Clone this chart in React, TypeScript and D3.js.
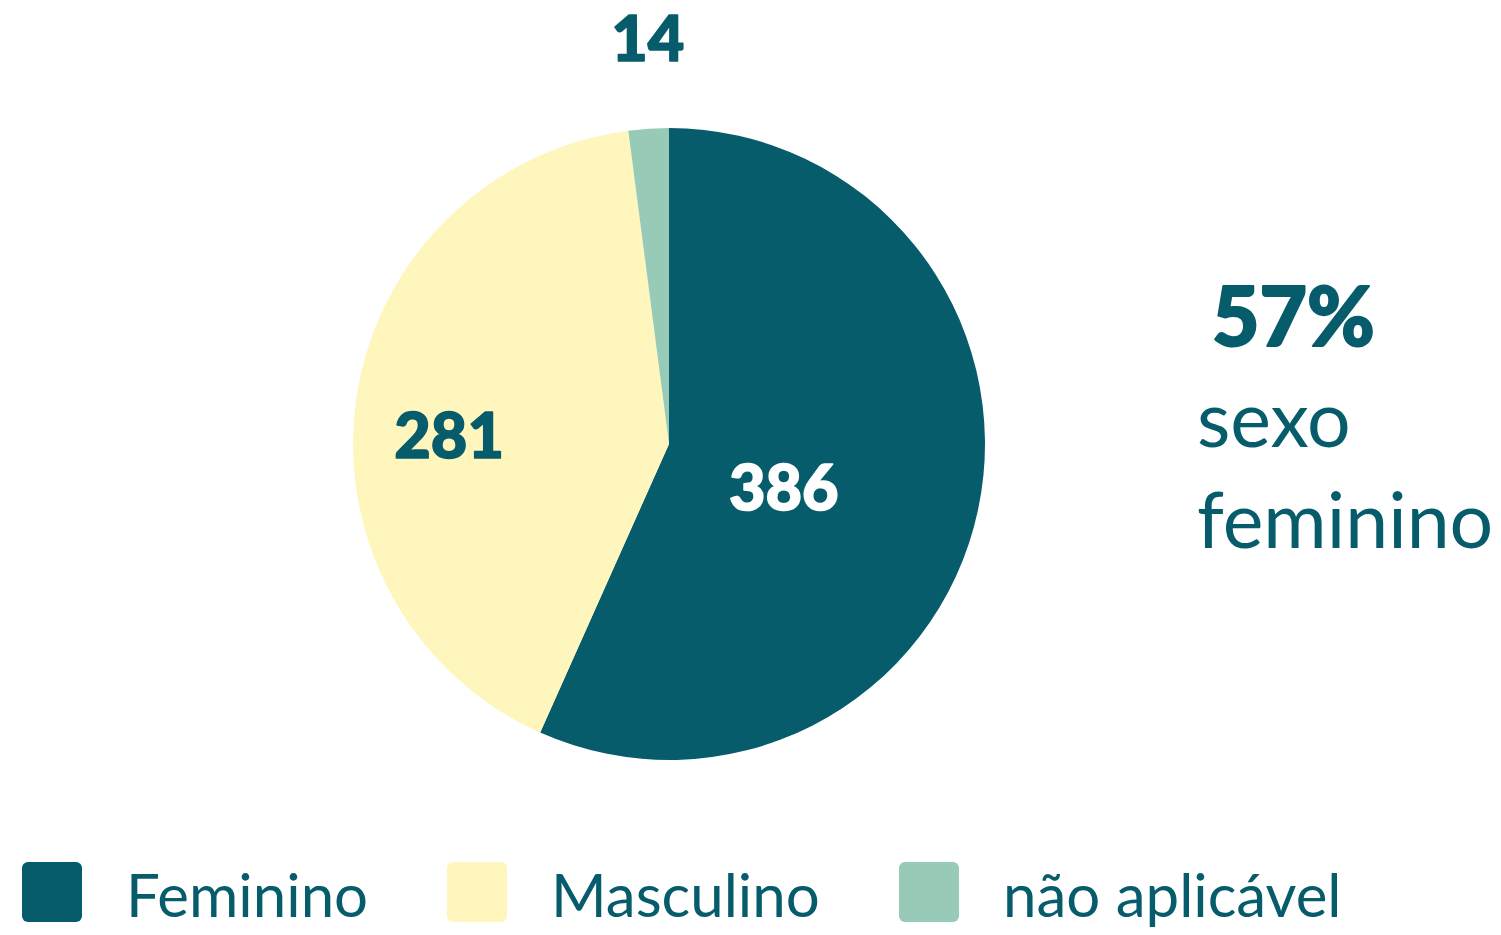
import React from "react";
import * as d3 from "d3";

const categories = ["Feminino", "Masculino", "não aplicável"];
const values = [386, 281, 14];
const colors = ["#075C6C", "#FFF6BE", "#98CBB7"];
const labelColors = ["#FFFFFF", "#075C6C", "#075C6C"];
// label placement: [angle in degrees (clockwise from top), distance from center]
const labelPlacement: [number, number][] = [
  [111, 123],
  [272, 220],
  [357, 405],
];

const TEXT = "#075C6C";
const FONT = "Lato, 'Open Sans', sans-serif";

export default function App() {
  const width = 1501;
  const height = 935;
  const cx = 669;
  const cy = 444;
  const r = 316;

  const pie = d3.pie<number>().sort(null).startAngle(0).endAngle(2 * Math.PI);
  const arcs = pie(values);
  const arc = d3.arc<d3.PieArcDatum<number>>().innerRadius(0).outerRadius(r);

  const total = d3.sum(values);
  const pct = d3.format(".0%")(values[0] / total);

  const legendX = [22, 447, 899];

  return (
    <svg
      width={width}
      height={height}
      style={{ position: "absolute", left: 0, top: 0, background: "#fff" }}
    >
      <g transform={`translate(${cx},${cy})`}>
        {arcs.map((a, i) => (
          <path key={i} d={arc(a) || ""} fill={colors[i]} />
        ))}
        {arcs.map((a, i) => {
          const [deg, dist] = labelPlacement[i];
          const t = (deg * Math.PI) / 180;
          const x = dist * Math.sin(t);
          const y = -dist * Math.cos(t) - 3;
          return (
            <text
              key={i}
              x={x}
              y={y}
              textAnchor="middle"
              dominantBaseline="central"
              fontFamily={FONT}
              fontWeight={900}
              fontSize={63}
              fill={labelColors[i]}
              stroke={labelColors[i]}
              strokeWidth={1.6}
              strokeLinejoin="round"
            >
              {values[i]}
            </text>
          );
        })}
      </g>

      <text
        x={1212}
        y={346}
        fontFamily={FONT}
        fontWeight={900}
        fontSize={82}
        fill={TEXT}
        stroke={TEXT}
        strokeWidth={2}
        strokeLinejoin="round"
      >
        {pct}
      </text>
      <text x={1197} y={447} fontFamily={FONT} fontWeight={400} fontSize={77} fill={TEXT}>
        sexo
      </text>
      <text x={1197} y={548} fontFamily={FONT} fontWeight={400} fontSize={77} fill={TEXT}>
        feminino
      </text>

      {categories.map((c, i) => (
        <g key={c} transform={`translate(${legendX[i]},862)`}>
          <rect width={60} height={60} rx={6} fill={colors[i]} />
          <text x={104} y={55} fontFamily={FONT} fontSize={60} fill={TEXT}>
            {c}
          </text>
        </g>
      ))}
    </svg>
  );
}
